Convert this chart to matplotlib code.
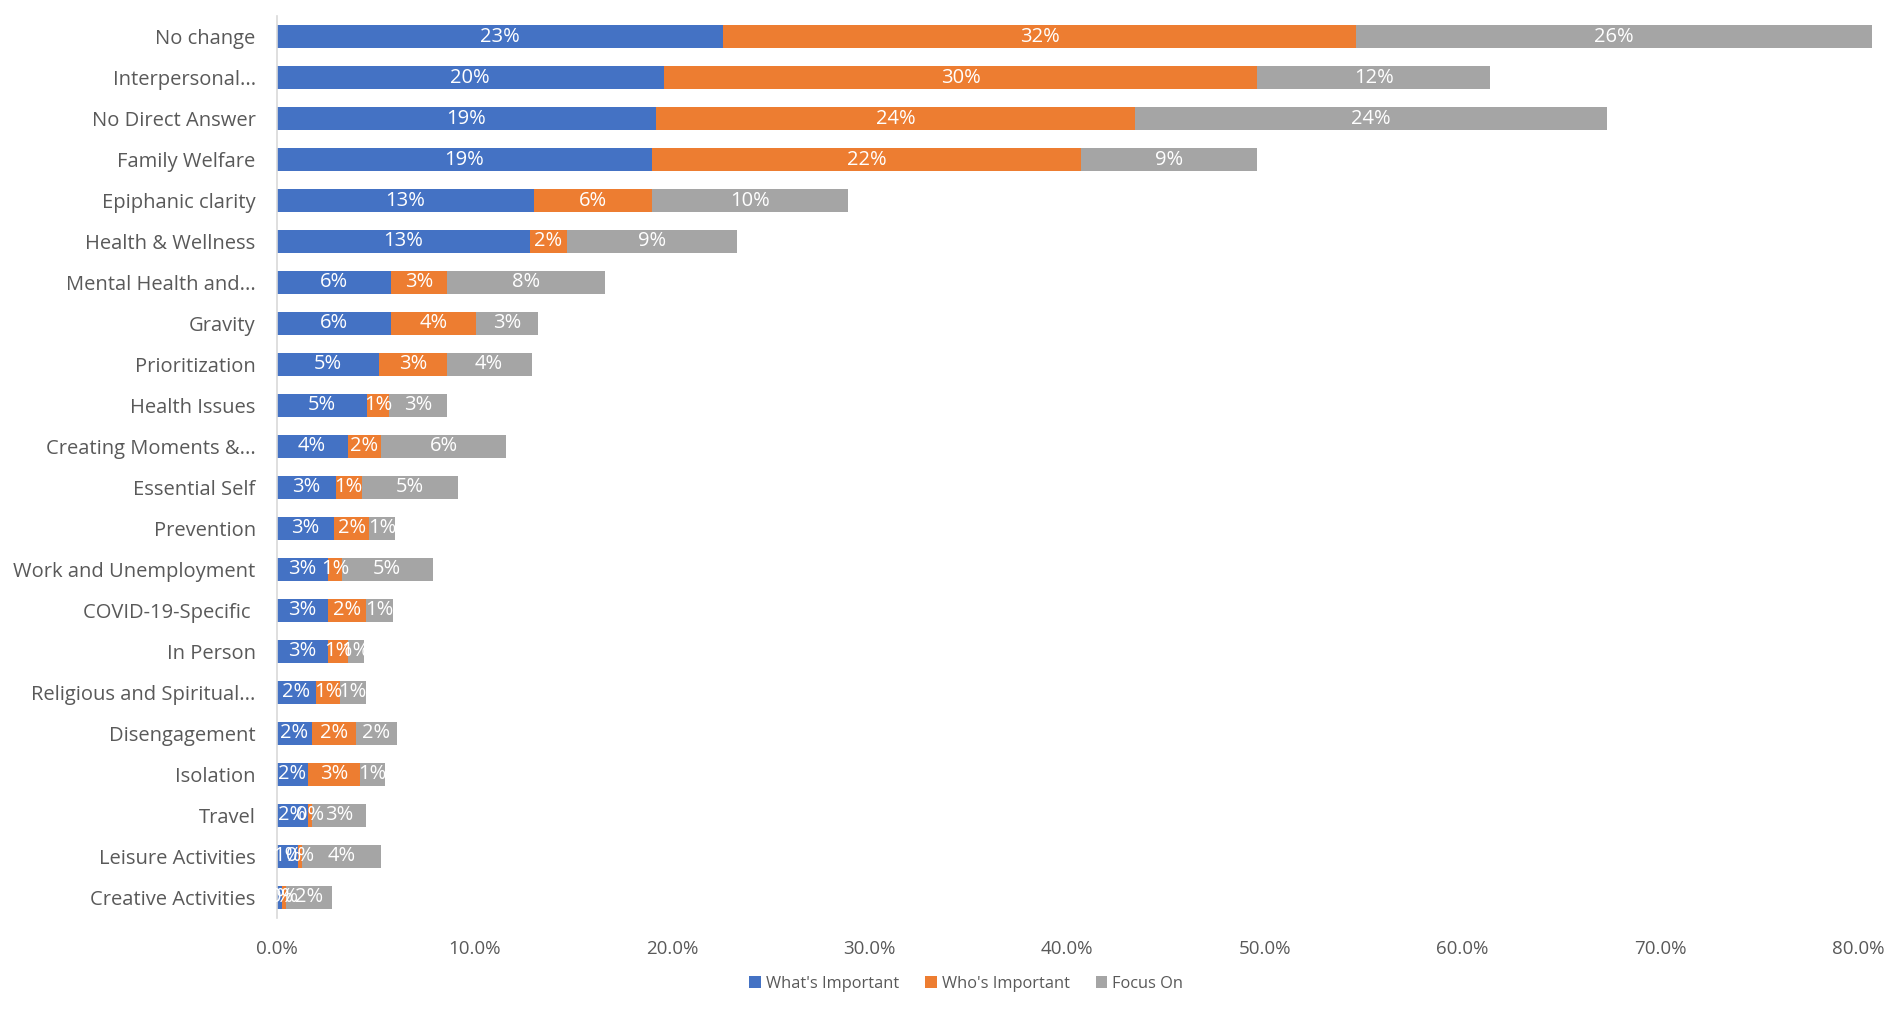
import matplotlib
matplotlib.use("Agg")
import matplotlib.pyplot as plt
from matplotlib.ticker import FuncFormatter, MultipleLocator
from matplotlib.patches import Patch

categories = [
    "No change", "Interpersonal...", "No Direct Answer", "Family Welfare",
    "Epiphanic clarity", "Health & Wellness", "Mental Health and...", "Gravity",
    "Prioritization", "Health Issues", "Creating Moments &...", "Essential Self",
    "Prevention", "Work and Unemployment", "COVID-19-Specific ", "In Person",
    "Religious and Spiritual...", "Disengagement", "Isolation", "Travel",
    "Leisure Activities", "Creative Activities",
]
whats_important = [22.6, 19.6, 19.2, 19.0, 13.0, 12.8, 5.8, 5.8, 5.2, 4.6, 3.6, 3.0,
                   2.9, 2.6, 2.6, 2.6, 2.0, 1.8, 1.6, 1.6, 1.1, 0.3]
whos_important = [32.0, 30.0, 24.2, 21.7, 6.0, 1.9, 2.8, 4.3, 3.4, 1.1, 1.7, 1.3,
                  1.8, 0.7, 1.9, 1.0, 1.2, 2.2, 2.6, 0.2, 0.2, 0.2]
focus_on = [26.1, 11.8, 23.9, 8.9, 9.9, 8.6, 8.0, 3.1, 4.3, 2.9, 6.3, 4.9,
            1.3, 4.6, 1.4, 0.8, 1.3, 2.1, 1.3, 2.7, 4.0, 2.3]
series_names = ["What's Important", "Who's Important", "Focus On"]
colors = ["#4472C4", "#ED7D31", "#A5A5A5"]

FONT = "Open Sans"
TXT = "#595959"

fig = plt.figure(figsize=(19.02, 10.13), dpi=100)
ax = fig.add_axes([0.1454, 0.0938, 0.8315, 0.8904])

n = len(categories)
ypos = list(range(n))
left = [0.0] * n
for name, vals, col in zip(series_names, [whats_important, whos_important, focus_on], colors):
    fr = [v / 100 for v in vals]
    bars = ax.barh(ypos, fr, left=left, height=0.55, color=col, label=name,
                   clip_on=False, zorder=2)
    for b, v, l in zip(bars, fr, left):
        ax.text(l + v / 2, b.get_y() + b.get_height() / 2, f"{round(v*100):d}%",
                ha="center", va="center", color="white", fontsize=14.5,
                family=FONT, zorder=3, clip_on=False)
    left = [l + v for l, v in zip(left, fr)]

ax.set_ylim(n - 0.5, -0.5)
ax.set_xlim(0, 0.8)
ax.set_yticks(ypos)
ax.set_yticklabels(categories, fontsize=14.5, color=TXT, family=FONT)
ax.xaxis.set_major_locator(MultipleLocator(0.1))
ax.xaxis.set_major_formatter(FuncFormatter(lambda x, p: f"{x*100:.1f}%"))
for t in ax.get_xticklabels():
    t.set_family(FONT)
ax.tick_params(axis="x", labelsize=13.5, labelcolor=TXT, length=0, pad=16)
ax.tick_params(axis="y", length=0, pad=15)
for s in ["top", "right", "bottom"]:
    ax.spines[s].set_visible(False)
ax.spines["left"].set_color("#D9D9D9")
ax.spines["left"].set_linewidth(1.2)

handles = [Patch(facecolor=c, label=l) for l, c in zip(series_names, colors)]
fig.legend(handles=handles, loc="center", bbox_to_anchor=(0.508, 0.0290), ncol=3,
           frameon=False, prop={"family": FONT, "size": 11.8}, labelcolor=TXT,
           handlelength=0.7, handleheight=0.7, handletextpad=0.3, columnspacing=1.6)

fig.savefig("out.png", dpi=100, facecolor="white")
